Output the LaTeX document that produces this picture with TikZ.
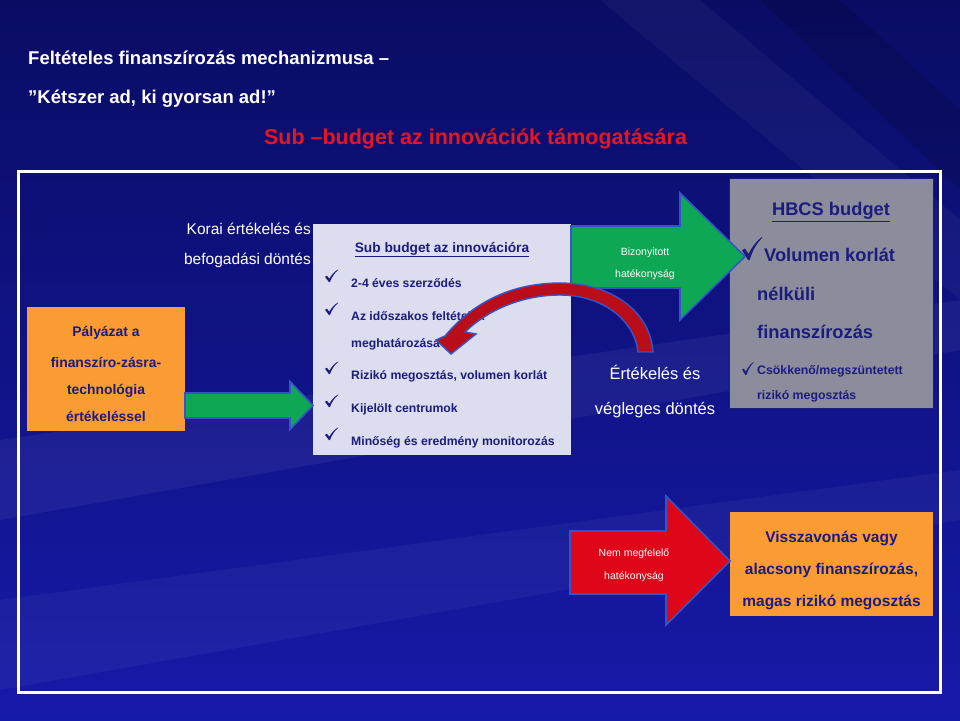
\documentclass[tikz,border=0pt]{standalone}
\usepackage{fontspec}
\setmainfont{Liberation Sans}
\definecolor{bgtop}{RGB}{10,12,100}
\definecolor{bgbot}{RGB}{22,26,168}
\definecolor{navytext}{RGB}{28,28,125}
\definecolor{titlered}{RGB}{228,22,36}
\definecolor{boxorange}{RGB}{250,155,52}
\definecolor{boxlav}{RGB}{220,221,238}
\definecolor{boxgray}{RGB}{140,141,156}
\definecolor{arrgreen}{RGB}{14,168,84}
\definecolor{arrred}{RGB}{222,6,24}
\definecolor{curvred}{RGB}{185,14,26}
\definecolor{arrblue}{RGB}{52,84,200}
\tikzset{
  box/.style={inner sep=0pt, anchor=north west, draw=none},
  blockarrow/.style={draw=arrblue, line width=1.6pt, line join=miter},
  titletxt/.style={anchor=base west, inner sep=0pt, text=white, font=\fontsize{18.5}{20}\selectfont\bfseries},
  redtitle/.style={anchor=base, inner sep=0pt, text=titlered, font=\fontsize{21.5}{24}\selectfont\bfseries},
  wlab/.style={anchor=base east, inner sep=0pt, text=white, font=\fontsize{15.5}{18}\selectfont},
  wmid/.style={anchor=base, inner sep=0pt, text=white, font=\fontsize{16.5}{19}\selectfont},
  wsmall/.style={anchor=base, inner sep=0pt, text=white, font=\fontsize{10.5}{12}\selectfont},
  otxt/.style={anchor=base, inner sep=0pt, text=navytext, font=\fontsize{13.9}{16}\selectfont\bfseries},
  itemtxt/.style={anchor=base west, inner sep=0pt, text=navytext, font=\fontsize{12.2}{14}\selectfont\bfseries},
  subhead/.style={anchor=base, inner sep=0pt, text=navytext, font=\fontsize{13.7}{16}\selectfont\bfseries},
  gbig/.style={anchor=base west, inner sep=0pt, text=navytext, font=\fontsize{18.3}{20}\selectfont\bfseries},
  gsmall/.style={anchor=base west, inner sep=0pt, text=navytext, font=\fontsize{12.3}{14}\selectfont\bfseries},
  obr/.style={anchor=base, inner sep=0pt, text=navytext, font=\fontsize{15.5}{18}\selectfont\bfseries},
  pics/tick/.style={code={
    \fill[navytext] (0,0.58) -- (0.15,0.5) -- (0.33,0.74)
      .. controls (0.5,0.42) and (0.75,0.14) .. (1,0) -- (1,0.05)
      .. controls (0.74,0.26) and (0.52,0.6) .. (0.38,1) -- (0.3,1) -- cycle;
  }},
}
\begin{document}
\begin{tikzpicture}[x=1pt,y=-1pt]
\useasboundingbox (0,0) rectangle (960,720);
% background
\shade[top color=bgtop, bottom color=bgbot] (0,0) rectangle (960,720);
\fill[white, opacity=0.05] (0,440) -- (960,300) -- (960,350) -- (0,520) -- cycle;
\fill[white, opacity=0.04] (0,600) -- (960,470) -- (960,520) -- (0,690) -- cycle;
\fill[black, opacity=0.12] (760,0) -- (840,0) -- (960,110) -- (960,190) -- cycle;
\fill[white, opacity=0.04] (600,0) -- (700,0) -- (960,220) -- (960,300) -- cycle;
% frame
\draw[white, line width=3pt] (18,171) rectangle (940,692);
% titles
\node[titletxt] (t1) at (28,64) {Feltételes finanszírozás mechanizmusa –};
\node[titletxt] (t2) at (28,103.5) {”Kétszer ad, ki gyorsan ad!”};
\node[redtitle] (t3) at (475.5,144) {Sub –budget az innovációk támogatására};
% boxes
\node[box, fill=boxorange, minimum width=158, minimum height=124] (orangeL) at (27,307) {};
\node[box, fill=boxlav, minimum width=258, minimum height=231] (lav) at (313,224) {};
\node[box, fill=boxgray, draw=navytext, line width=0.6pt, minimum width=204, minimum height=230] (gray) at (729,178) {};
\node[box, fill=boxorange, minimum width=203, minimum height=104] (orangeR) at (730,512) {};
% left orange text
\node[otxt] (o1) at (106,336) {Pályázat a};
\node[otxt] (o2) at (106,367) {finanszíro-zásra-};
\node[otxt] (o3) at (106,394) {technológia};
\node[otxt] (o4) at (106,421.5) {értékeléssel};
% korai
\node[wlab] (k1) at (311,234.5) {Korai értékelés és};
\node[wlab] (k2) at (311,264.5) {befogadási döntés};
% left green arrow
\draw[blockarrow, fill=arrgreen] (185,393) -- (290,393) -- (290,381.5) -- (313,405.5) -- (290,429.5) -- (290,418) -- (185,418) -- cycle;
% lavender content
\node[subhead] (sb) at (442,252) {\underline{Sub budget az innovációra}};
\foreach \yy in {287.5, 320.5, 379.5, 412.5, 445.5}{
  \pic[xscale=13, yscale=12.5] at (325,\yy-18) {tick};
}
\node[itemtxt] (i1) at (351,287.5) {2-4 éves szerződés};
\node[itemtxt] (i2) at (351,320.5) {Az időszakos feltételek};
\node[itemtxt] (i2b) at (351,347.5) {meghatározása};
\node[itemtxt] (i3) at (351,379.5) {Rizikó megosztás, volumen korlát};
\node[itemtxt] (i4) at (351,412.5) {Kijelölt centrumok};
\node[itemtxt] (i5) at (351,445.5) {Minőség és eredmény monitorozás};
% gray content
\node[anchor=base, inner sep=0pt, text=navytext, font=\fontsize{18.3}{20}\selectfont\bfseries] (hb) at (831,215.5) {\underline{HBCS budget}};
\pic[xscale=20, yscale=23] at (742,237) {tick};
\node[gbig] (g1) at (764,261.5) {Volumen korlát};
\node[gbig] (g2) at (757,300.5) {nélküli};
\node[gbig] (g3) at (757,338.5) {finanszírozás};
\pic[xscale=11.5, yscale=13] at (742,362) {tick};
\node[gsmall] (g4) at (757,374.5) {Csökkenő/megszüntetett};
\node[gsmall] (g5) at (757,399.5) {rizikó megosztás};
% big green arrow
\draw[blockarrow, fill=arrgreen] (571,226) -- (680,226) -- (680,193) -- (745,256.5) -- (680,320) -- (680,288) -- (571,288) -- cycle;
\node[wsmall] (bz1) at (645,255) {Bizonyitott};
\node[wsmall] (bz2) at (645,277) {hatékonyság};
% evaluation text
\node[wmid] (e1) at (655,379) {Értékelés és};
\node[wmid] (e2) at (655,414) {végleges döntés};
% curved arrow
\draw[draw=arrblue, line width=1.4pt, fill=curvred, line join=miter]
 (445,336) .. controls (475,300) and (515,283) .. (560,283)
 .. controls (610,283) and (650,310) .. (653,352)
 -- (638,352)
 .. controls (634,318) and (600,295) .. (560,295)
 .. controls (525,295) and (490,308) .. (465,332)
 -- (476,334) -- (451,354) -- (436,340) -- cycle;
% bottom red arrow
\draw[blockarrow, fill=arrred] (570,531) -- (666,531) -- (666,496) -- (730,561) -- (666,625) -- (666,594) -- (570,594) -- cycle;
\node[wsmall] (nm1) at (634,556) {Nem megfelelő};
\node[wsmall] (nm2) at (634,579) {hatékonyság};
% bottom orange text
\node[obr] (r1) at (831.5,542.5) {Visszavonás vagy};
\node[obr] (r2) at (831.5,574.5) {alacsony finanszírozás,};
\node[obr] (r3) at (831.5,606.5) {magas rizikó megosztás};
\end{tikzpicture}
\end{document}
